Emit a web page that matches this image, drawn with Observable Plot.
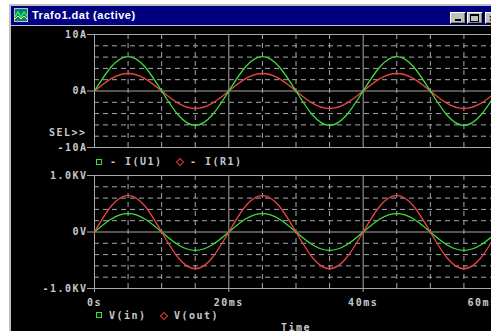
<!DOCTYPE html>
<html><head><meta charset="utf-8">
<script src="https://cdn.jsdelivr.net/npm/d3@7"></script>
<script src="https://cdn.jsdelivr.net/npm/@observablehq/plot@0.6"></script>
<style>
html,body{margin:0;padding:0;background:#fff;}
#win{position:relative;width:491px;height:331px;overflow:hidden;background:#fff;}
.abs{position:absolute;}
.mono{font-family:"DejaVu Sans Mono",monospace;font-size:10px;font-weight:bold;letter-spacing:1.5px;color:#c8c8c8;white-space:pre;line-height:10px;}
.btn{position:absolute;top:12px;width:14px;height:10px;background:#c0c0c0;border-top:1px solid #fff;border-left:1px solid #fff;border-right:1px solid #000;border-bottom:1px solid #000;box-shadow:inset -1px -1px 0 #808080;}
.sq{position:absolute;width:4px;height:4px;border:1.5px solid #3ce03c;}
.dm{position:absolute;width:4px;height:4px;border:1px solid #d83838;transform:rotate(45deg);}
</style></head><body>
<div id="win">
  <div class="abs" style="left:9px;top:4px;width:600px;height:400px;background:#c0c0c0"></div>
  <div class="abs" style="left:11px;top:6px;width:600px;height:19px;background:#000080"></div>
  <div class="abs" style="left:11px;top:26px;width:600px;height:400px;background:#000"></div>
  <svg class="abs" style="left:14px;top:8px" width="14" height="14">
    <rect x="0.5" y="0.5" width="13" height="13" fill="#008080" stroke="#c0c0c0"/>
    <polyline points="1,9 4,4 7,9 10,4 13,8" fill="none" stroke="#40ff40" stroke-width="1.2"/>
    <polyline points="1,11 4,8 7,11 10,8 13,11" fill="none" stroke="#ffff60" stroke-width="1"/>
  </svg>
  <div class="abs" style="left:32px;top:9px;font-family:'Liberation Sans',Arial,sans-serif;font-weight:bold;font-size:11px;letter-spacing:0.5px;color:#fff;line-height:12px;white-space:pre">Trafo1.dat (active)</div>
  <div class="btn" style="left:450px"><div class="abs" style="left:4px;top:6px;width:6px;height:2px;background:#000"></div></div>
  <div class="btn" style="left:467px"><div class="abs" style="left:2px;top:1px;width:7px;height:5px;border:1px solid #000;border-top-width:2px"></div></div>
  <div class="btn" style="left:485px"><div class="abs" style="left:3px;top:0px;font:bold 10px 'Liberation Sans';color:#000">×</div></div>
  <div id="top" class="abs" style="left:0;top:0"></div>
  <div id="bottom" class="abs" style="left:0;top:0"></div>
  <div class="sq" style="left:96px;top:159px"></div>
  <div class="abs mono" style="left:110px;top:157px">- I(U1)</div>
  <div class="dm" style="left:177px;top:159px"></div>
  <div class="abs mono" style="left:190px;top:157px">- I(R1)</div>
  <div class="sq" style="left:96px;top:312px"></div>
  <div class="abs mono" style="left:109px;top:311px">V(in)</div>
  <div class="dm" style="left:161px;top:313px"></div>
  <div class="abs mono" style="left:174px;top:311px">V(out)</div>
</div>
<script>
// ---- data ----
const timeMs = [0,2.5,5,7.5,10,12.5,15,17.5,20,22.5,25,27.5,30,32.5,35,37.5,40,42.5,45,47.5,50,52.5,55,57.5,60];
const iU1  = [0,4.3,6.1,4.3,0,-4.3,-6.1,-4.3,0,4.3,6.1,4.3,0,-4.3,-6.1,-4.3,0,4.3,6.1,4.3,0,-4.3,-6.1,-4.3,0];
const iR1  = [0,2.2,3.1,2.2,0,-2.2,-3.1,-2.2,0,2.2,3.1,2.2,0,-2.2,-3.1,-2.2,0,2.2,3.1,2.2,0,-2.2,-3.1,-2.2,0];
const vIn  = [0,230,325,230,0,-230,-325,-230,0,230,325,230,0,-230,-325,-230,0,230,325,230,0,-230,-325,-230,0];
const vOut = [0,460,650,460,0,-460,-650,-460,0,460,650,460,0,-460,-650,-460,0,460,650,460,0,-460,-650,-460,0];

const timeMajor = [0,20,40,60];
const timeMinor = [5,10,15,25,30,35,45,50,55];
const timeLabels = ["0s","20ms","40ms","60ms"];

const currentFrame = [-10,0,10];
const currentGrid = [-8,-6,-4,-2,2,4,6,8];
const currentLabels = ["-10A","0A","10A"];

const voltFrame = [-1000,0,1000];
const voltGrid = [-800,-600,-400,-200,200,400,600,800];
const voltLabels = ["-1.0KV","0V","1.0KV"];

// ---- styling ----
const gridColor = "#a8a8a8", textColor = "#c8c8c8", green = "#3ce03c", red = "#e84444";
const rows = vals => timeMs.map((t,i) => ({t, v: vals[i]}));
const labelMap = (vals, labels) => { const m = new Map(vals.map((v,i)=>[v,labels[i]])); return d => m.get(d); };
const tFmt = labelMap(timeMajor, timeLabels);

function panel({marginTop, marginBottom, domain, frame, grid, labels, series, extra, showX}) {
  return Plot.plot({
    width: 500, height: 331, marginLeft: 94, marginRight: 3, marginTop, marginBottom,
    style: {background: "transparent", color: textColor, fontFamily: "DejaVu Sans Mono, monospace",
            fontSize: "10px", fontWeight: "bold", letterSpacing: "1.5px", maxWidth: "none", overflow: "hidden"},
    x: {domain: [0,60], label: null, axis: showX ? undefined : null},
    y: {domain, label: null, axis: null},
    marks: [
      Plot.ruleY(grid, {x1: 0, x2: 60, stroke: gridColor, strokeDasharray: "5,4"}),
      Plot.ruleX(timeMinor, {y1: domain[0], y2: domain[1], stroke: gridColor, strokeDasharray: "5,4"}),
      Plot.ruleY(frame, {x1: 0, x2: 60, stroke: gridColor}),
      Plot.ruleX(timeMajor, {y1: domain[0], y2: domain[1], stroke: gridColor}),
      Plot.axisY(frame, {tickSize: 7, tickPadding: 0, tickFormat: labelMap(frame, labels), stroke: gridColor, fill: textColor, label: null}),
      ...series.map(([vals, color]) => Plot.line(rows(vals), {x: "t", y: "v", stroke: color, strokeWidth: 1.3, curve: "natural"})),
      ...extra
    ]
  });
}

document.getElementById("top").append(panel({
  marginTop: 34, marginBottom: 331 - 147, domain: [-10, 10],
  frame: currentFrame, grid: currentGrid, labels: currentLabels,
  series: [[iR1, red], [iU1, green]], showX: false,
  extra: [Plot.text(["SEL>>"], {frameAnchor: "bottom-left", dx: -8, dy: -12, textAnchor: "end", fill: textColor})]
}));

document.getElementById("bottom").append(panel({
  marginTop: 175, marginBottom: 331 - 288, domain: [-1000, 1000],
  frame: voltFrame, grid: voltGrid, labels: voltLabels,
  series: [[vIn, green], [vOut, red]], showX: true,
  extra: [
    Plot.axisX(timeMajor.filter(d => d < 60), {tickSize: 4, tickPadding: 6, tickFormat: tFmt, stroke: gridColor, fill: textColor, label: null}),
    Plot.axisX(timeMajor.filter(d => d === 60), {tickSize: 4, tickPadding: 6, tickFormat: tFmt, textAnchor: "end", dx: 0, stroke: gridColor, fill: textColor, label: null}),
    Plot.text(["Time"], {frameAnchor: "bottom", dy: 35, lineAnchor: "top", fill: textColor})
  ]
}));
</script>
</body></html>
